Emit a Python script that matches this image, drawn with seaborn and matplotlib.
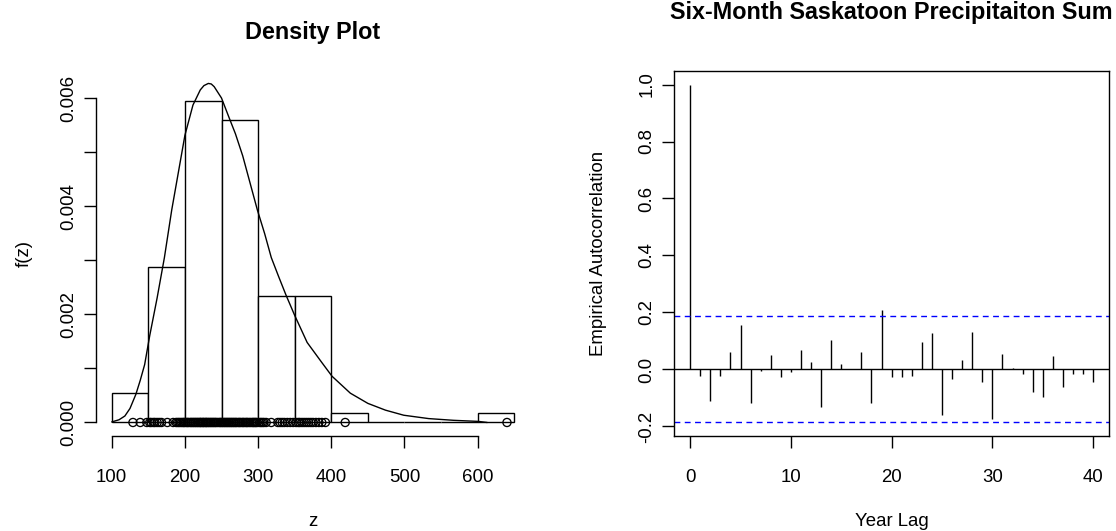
import matplotlib
matplotlib.use("Agg")
import matplotlib.pyplot as plt
import numpy as np
import seaborn as sns

# Six-month precipitation sums (mm), one value per year
precip = [
    129, 139, 148,
    152, 154, 157, 159, 162, 165, 168, 176, 184, 188, 190, 192, 194, 196, 198, 199,
    201, 203, 204, 206, 208, 209, 211, 212, 214, 215, 217, 218, 220, 221, 222, 224,
    225, 226, 228, 229, 230, 232, 233, 235, 236, 238, 239, 241, 242, 244, 246, 248, 249,
    251, 252, 254, 255, 257, 258, 260, 261, 263, 264, 266, 267, 269, 270, 272, 274,
    275, 277, 279, 280, 282, 284, 285, 287, 289, 291, 293, 294, 296, 297, 299,
    302, 304, 306, 308, 311, 318, 327, 330, 333, 336, 340, 344, 348,
    352, 355, 357, 360, 363, 366, 369, 372, 375, 379, 383, 387, 392,
    419,
    640,
]
bin_edges = [100, 150, 200, 250, 300, 350, 400, 450, 500, 550, 600, 650]

# Fitted density curve f(z)
curve_z = [100, 110, 118, 125, 133, 139, 145, 152, 162, 172, 182, 191, 200, 211,
           221, 226, 232, 236, 240, 250, 260, 269, 279, 289, 299, 309, 318, 328,
           338, 350, 367, 387, 401, 426, 450, 474, 499, 533, 567, 601, 613]
curve_f = [0.00001, 0.00005, 0.00012, 0.00026, 0.00052, 0.00078, 0.00107, 0.00161,
           0.0023, 0.00305, 0.00393, 0.00462, 0.00531, 0.00587, 0.00615, 0.00623,
           0.00627, 0.00626, 0.00621, 0.006, 0.00565, 0.00534, 0.00493, 0.00443,
           0.00393, 0.00349, 0.00305, 0.0027, 0.00236, 0.00198, 0.00148, 0.00111,
           0.000855, 0.000542, 0.000353, 0.000228, 0.000134, 0.000072, 0.00004,
           0.00002, 0.0]

# Sample autocorrelation, lags 0..40
lags = list(range(41))
acf = [1.0, -0.022, -0.111, -0.022, 0.060, 0.157, -0.119, -0.006, 0.052, -0.027,
       -0.009, 0.068, 0.026, -0.132, 0.102, 0.021, 0.002, 0.060, -0.119, 0.208,
       -0.027, -0.027, -0.022, 0.098, 0.128, -0.158, -0.035, 0.035, 0.131, -0.044,
       -0.174, 0.055, 0.006, -0.015, -0.078, -0.095, 0.048, -0.061, -0.015, -0.015,
       -0.044]
ci_bound = 0.186

x_ticks_left = [100, 200, 300, 400, 500, 600]
y_ticks_left = [0.000, 0.001, 0.002, 0.003, 0.004, 0.005, 0.006]
y_labels_left = ["0.000", "", "0.002", "", "0.004", "", "0.006"]
x_ticks_right = [0, 10, 20, 30, 40]
y_ticks_right = [-0.2, 0.0, 0.2, 0.4, 0.6, 0.8, 1.0]

sns.set_style("white")
plt.rcParams["font.family"] = ["Liberation Sans", "DejaVu Sans"]
plt.rcParams["axes.unicode_minus"] = False
plt.rcParams["text.color"] = "black"
plt.rcParams["axes.labelcolor"] = "black"
plt.rcParams["xtick.color"] = "black"
plt.rcParams["ytick.color"] = "black"

FS = 13.4
TFS = 16.8
LW = 1.0
W, H = 1116, 531

fig = plt.figure(figsize=(W / 100, H / 100), dpi=100)
fig.patch.set_facecolor("white")
ax1 = fig.add_axes([95.6 / W, 95 / H, 434.8 / W, 365 / H])
ax2 = fig.add_axes([674 / W, 95 / H, 435.3 / W, 365 / H])

# ---- Left: histogram with density curve and data rug ----
sns.histplot(x=precip, bins=bin_edges, stat="density", color="white",
             edgecolor="black", linewidth=LW, alpha=1, ax=ax1)
sns.lineplot(x=curve_z, y=curve_f, color="black", linewidth=LW, sort=False,
             estimator=None, ax=ax1)
sns.scatterplot(x=precip, y=np.zeros(len(precip)), marker="o", s=34,
                facecolor="none", edgecolor="black", linewidth=0.95,
                zorder=4, ax=ax1)

ax1.set_xlim(78, 672)
ax1.set_ylim(-0.00025, 0.0065)
for side in ("top", "right"):
    ax1.spines[side].set_visible(False)
ax1.spines["left"].set_bounds(0, 0.006)
ax1.spines["bottom"].set_bounds(100, 600)
ax1.set_xticks(x_ticks_left)
ax1.set_xticklabels([str(v) for v in x_ticks_left])
ax1.set_yticks(y_ticks_left)
ax1.set_yticklabels(y_labels_left)
ax1.set_title("Density Plot", fontsize=TFS, fontweight="bold",
              y=(436 - 39) / 365, pad=0)
ax1.set_xlabel("z", fontsize=FS)
ax1.set_ylabel("f(z)", fontsize=FS)
ax1.xaxis.set_label_coords(0.5, -(526.5 - 436) / 365)
ax1.yaxis.set_label_coords((28.5 - 95.6) / 434.8, 0.5)

# ---- Right: autocorrelation function ----
ax2.vlines(lags, 0, acf, colors="black", linewidth=LW)
ax2.axhline(0, color="black", linewidth=LW)
for b in (ci_bound, -ci_bound):
    ax2.axhline(b, color="#0000FF", linewidth=LW, linestyle=(0, (4.2, 3.2)))
ax2.set_xlim(-1.6, 41.6)
ax2.set_ylim(-0.2334, 1.0474)
ax2.set_xticks(x_ticks_right)
ax2.set_xticklabels([str(v) for v in x_ticks_right])
ax2.set_yticks(y_ticks_right)
ax2.set_yticklabels([f"{v:.1f}" for v in y_ticks_right])
ax2.set_title("Six-Month Saskatoon Precipitaiton Sum", fontsize=TFS,
              fontweight="bold", y=(436 - 19) / 365, pad=0)
ax2.set_xlabel("Year Lag", fontsize=FS)
ax2.set_ylabel("Empirical Autocorrelation", fontsize=FS)
ax2.xaxis.set_label_coords(0.5, -(526.5 - 436) / 365)
ax2.yaxis.set_label_coords((603 - 674) / 435.3, 0.5)

for ax in (ax1, ax2):
    ax.set_facecolor("white")
    for sp in ax.spines.values():
        sp.set_color("black")
        sp.set_linewidth(LW)
    ax.tick_params(axis="both", direction="out", length=8.3, width=LW,
                   labelsize=FS, color="black")
    ax.tick_params(axis="x", pad=15.1, bottom=True)
    ax.tick_params(axis="y", pad=5.1, left=True, labelrotation=90)
    for lbl in ax.get_yticklabels():
        lbl.set_va("center")
        lbl.set_ha("right")
    ax.xaxis.label.set_va("baseline")
    ax.yaxis.label.set_va("baseline")
    ax.grid(False)

fig.savefig("out.png", dpi=100, facecolor="white")
